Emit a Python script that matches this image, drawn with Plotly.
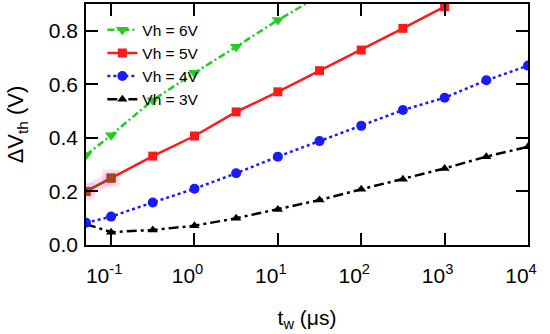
import plotly.graph_objects as go

# data
t_w = [0.05, 0.1, 0.316, 1, 3.16, 10, 31.6, 100, 316, 1000, 3162, 10000]
vh6 = [0.336, 0.41, 0.541, 0.643, 0.74, 0.84, 0.93]
vh5 = [0.20, 0.25, 0.332, 0.407, 0.497, 0.572, 0.651, 0.728, 0.809, 0.89]
vh4 = [0.083, 0.106, 0.159, 0.21, 0.268, 0.33, 0.388, 0.445, 0.504, 0.55, 0.615, 0.67]
vh3 = [0.078, 0.048, 0.056, 0.072, 0.10, 0.133, 0.168, 0.208, 0.246, 0.286, 0.33, 0.367]

x_tickvals = [0.1, 1, 10, 100, 1000, 10000]
x_ticktext = ["10<sup>-1</sup>", "10<sup>0</sup>", "10<sup>1</sup>", "10<sup>2</sup>", "10<sup>3</sup>", "10<sup>4</sup>"]
y_tickvals = [0.0, 0.2, 0.4, 0.6, 0.8]
y_ticktext = ["0.0", "0.2", "0.4", "0.6", "0.8"]

FONT = "Liberation Sans, Arial, sans-serif"

fig = go.Figure()
# drawn first so that the blue circle covers its first point, as in the reference
fig.add_trace(go.Scatter(x=t_w[:len(vh3)], y=vh3, name="Vh = 3V", mode="lines+markers", legendrank=4,
                         line=dict(color="black", width=2.5, dash="10px,4px,3px,4px"),
                         marker=dict(symbol="triangle-up", size=9, color="black")))
fig.add_trace(go.Scatter(x=t_w[:len(vh6)], y=vh6, name="Vh = 6V", mode="lines+markers", legendrank=1,
                         line=dict(color="#22cc22", width=2.5, dash="7px,3px,2px,3px"),
                         marker=dict(symbol="triangle-down", size=11, color="#22cc22")))
# faint pink highlight under the first two 5V points
fig.add_trace(go.Scatter(x=t_w[:2], y=vh5[:2], mode="lines+markers", showlegend=False, hoverinfo="skip",
                         line=dict(color="rgba(255,150,230,0.35)", width=12),
                         marker=dict(symbol="square", size=17, color="rgba(255,150,230,0.35)")))
fig.add_trace(go.Scatter(x=t_w[:len(vh5)], y=vh5, name="Vh = 5V", mode="lines+markers", legendrank=2,
                         line=dict(color="#ff1a1a", width=2.5),
                         marker=dict(symbol="square", size=9, color="#ff1a1a")))
fig.add_trace(go.Scatter(x=t_w[:2], y=vh5[:2], mode="lines+markers", showlegend=False, hoverinfo="skip",
                         line=dict(color="#9c4a1c", width=2.5),
                         marker=dict(symbol="square", size=9, color="#9c4a1c")))
fig.add_trace(go.Scatter(x=t_w[:len(vh4)], y=vh4, name="Vh = 4V", mode="lines+markers", legendrank=3,
                         line=dict(color="#1a1aff", width=2.5, dash="3px,3px"),
                         marker=dict(symbol="circle", size=10, color="#1a1aff")))

axis_common = dict(showgrid=False, zeroline=False, showline=True, linecolor="black", linewidth=1.5,
                   mirror="ticks", ticks="inside", ticklen=12, tickwidth=1.5, tickcolor="black",
                   automargin=False,
                   tickfont=dict(family=FONT, size=21, color="black"))

fig.update_xaxes(type="log", range=[-1.301, 4], tickvals=x_tickvals, ticktext=x_ticktext,
                 ticklabelstandoff=11, ticklabelshift=-7,
                 title=dict(text="t<sub>w</sub> (μs)", font=dict(family=FONT, size=21, color="black"), standoff=24),
                 **axis_common)
fig.update_yaxes(range=[0, 0.9], tickvals=y_tickvals, ticktext=y_ticktext,
                 ticklabelstandoff=2,
                 title=dict(text="ΔV<sub>th</sub> (V)", font=dict(family=FONT, size=22, color="black"), standoff=19),
                 **axis_common)

fig.update_layout(width=550, height=334, margin=dict(l=86, r=22, t=4, b=89),
                  plot_bgcolor="white", paper_bgcolor="white", showlegend=True,
                  legend=dict(x=0.037, y=0.962, xanchor="left", yanchor="top", bgcolor="rgba(0,0,0,0)",
                              font=dict(family=FONT, size=15.5, color="black"),
                              tracegroupgap=0, itemwidth=30))
fig.write_html("out.html", post_script="document.body.style.margin='0';",
               config={"displayModeBar": False})
